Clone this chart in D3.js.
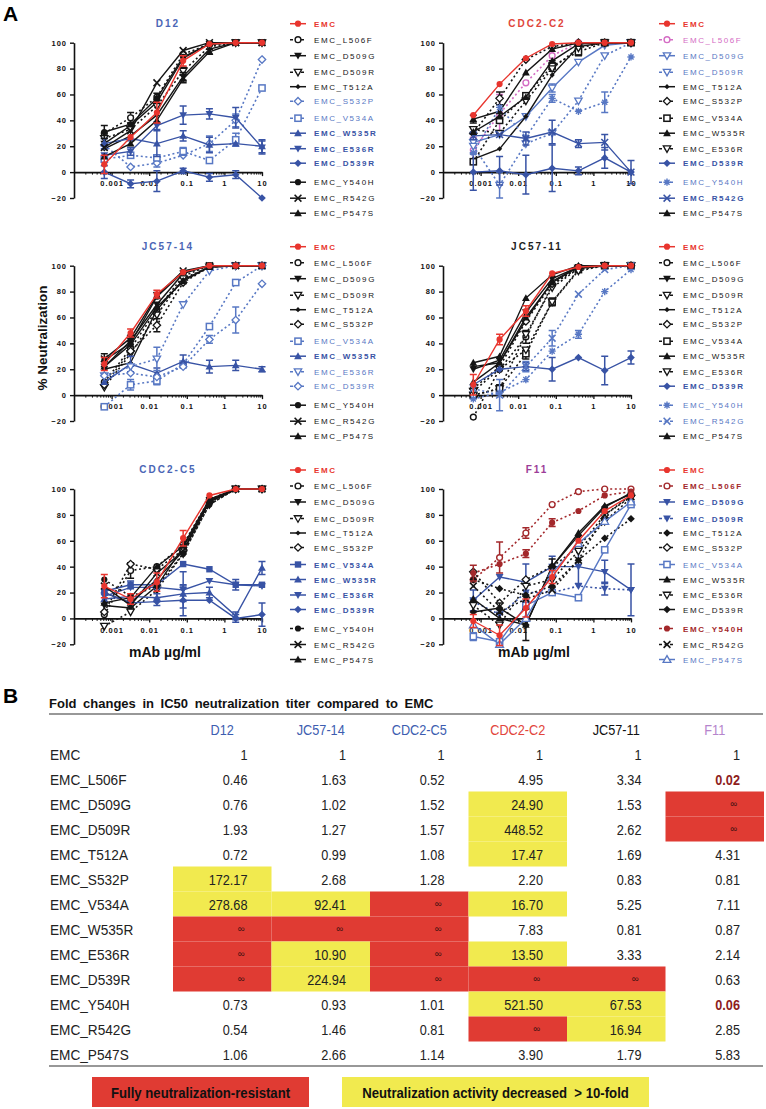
<!DOCTYPE html>
<html><head><meta charset="utf-8">
<script src="https://cdn.jsdelivr.net/npm/d3@7"></script>
<style>
body{margin:0;background:#fff}
svg text{font-family:"Liberation Sans",Arial,sans-serif}
</style></head>
<body><svg id="c" width="766" height="1109"></svg>
<script>
// ---------- DATA ----------
const conc = [0.00064, 0.0032, 0.016, 0.08, 0.4, 2, 10];
const mutants = ["EMC","EMC_L506F","EMC_D509G","EMC_D509R","EMC_T512A","EMC_S532P","EMC_V534A","EMC_W535R","EMC_E536R","EMC_D539R","EMC_Y540H","EMC_R542G","EMC_P547S"];
const xTickValues = [0.001, 0.01, 0.1, 1, 10];
const xTickLabels = ["0.001","0.01","0.1","1","10"];
const yTickValues = [-20, 0, 20, 40, 60, 80, 100];

// % neutralization, one row per mutant (order of `mutants`), one column per concentration
const valuesD12 = [
  [6, 27, 46, 86, 99, 100, 100],
  [30, 42, 58, 91, 99, 100, 100],
  [22, 36, 54, 88, 99, 100, 100],
  [26, 33, 51, 78, 97, 100, 100],
  [18, 28, 44, 74, 95, 100, 100],
  [21, 4, 7, 13, 22, 40, 87],
  [10, 13, 11, 16, 9, 25, 65],
  [22, 26, 22, 28, 21, 22, 20],
  [13, 16, 36, 44, 45, 42, 19],
  [0, -9, -7, 1, -4, -2, -20],
  [31, 37, 57, 89, 99, 100, 100],
  [19, 32, 69, 94, 100, 100, 100],
  [12, 22, 40, 72, 93, 100, 100]
];
const errD12 = [
  [7,0,8,4,0,0,0],[0,4,0,0,0,0,0],[0,0,0,0,0,0,0],[0,0,0,3,0,0,0],[0,0,0,3,0,0,0],
  [0,0,3,0,6,5,0],[0,0,0,3,0,5,0],[4,0,10,4,6,0,5],[0,3,3,7,4,8,5],[5,3,8,2,3,3,0],
  [5,0,4,0,0,0,0],[0,0,0,0,0,0,0],[0,0,0,3,2,0,0]
];
const valuesCDC2C2 = [
  [44, 68, 88, 99, 100, 100, 100],
  [17, 45, 69, 90, 100, 100, 100],
  [23, 29, 43, 65, 85, 98, 100],
  [20, -10, 22, 30, 55, 90, 100],
  [10, 18, 43, 75, 97, 100, 100],
  [30, 57, 87, 97, 100, 100, 100],
  [8, 40, 59, 82, 93, 100, 100],
  [41, 47, 77, 95, 100, 100, 100],
  [33, 30, 55, 80, 96, 100, 100],
  [0, 1, -2, 3, 1, 11, 0],
  [15, 50, 27, 57, 47, 54, 89],
  [28, 29, 26, 31, 22, 23, 0],
  [31, 43, 58, 86, 99, 100, 100]
];
const errCDC2C2 = [
  [0,0,0,0,0,0,0],[10,15,0,0,0,0,0],[0,0,0,3,0,0,0],[0,10,0,0,0,0,0],[0,0,0,0,0,0,0],
  [0,5,0,0,0,0,0],[0,0,0,4,3,0,0],[3,0,0,0,0,0,0],[0,0,0,0,0,0,0],[14,11,15,18,3,8,9],
  [0,0,0,3,0,8,0],[3,0,5,9,3,6,0],[0,0,0,0,0,0,0]
];
const valuesJC5714 = [
  [24, 48, 78, 95, 100, 100, 100],
  [10, 36, 66, 92, 100, 100, 100],
  [22, 42, 70, 94, 100, 100, 100],
  [6, 32, 62, 90, 99, 100, 100],
  [20, 25, 66, 89, 99, 100, 100],
  [8, 34, 54, 87, 99, 100, 100],
  [-9, 8, 11, 24, 53, 87, 100],
  [10, 24, 17, 26, 22, 23, 20],
  [15, 22, 28, 70, 96, 100, 100],
  [15, 17, 14, 22, 43, 58, 86],
  [27, 40, 76, 95, 100, 100, 100],
  [28, 44, 77, 96, 100, 100, 100],
  [22, 39, 68, 88, 99, 100, 100]
];
const errJC5714 = [
  [5,3,3,0,0,0,0],[0,0,0,0,0,0,0],[0,0,0,0,0,0,0],[0,0,0,0,0,0,0],[0,0,0,0,0,0,0],
  [0,0,5,0,0,0,0],[0,4,3,0,0,0,0],[0,6,4,5,5,4,2],[0,0,9,0,0,0,0],[0,0,0,0,3,10,0],
  [5,0,0,0,0,0,0],[0,0,0,0,0,0,0],[0,0,0,0,0,0,0]
];
const valuesJC5711 = [
  [8, 43, 65, 94, 99, 100, 100],
  [-17, 20, 45, 85, 99, 100, 100],
  [20, 27, 64, 90, 99, 100, 100],
  [0, 5, 47, 83, 98, 100, 100],
  [22, 25, 58, 88, 99, 100, 100],
  [5, 22, 57, 86, 98, 100, 100],
  [0, 5, 32, 72, 97, 100, 100],
  [25, 30, 75, 93, 100, 100, 100],
  [3, 20, 35, 72, 96, 100, 100],
  [8, 20, 22, 20, 29, 19, 29],
  [-3, 2, 12, 34, 47, 80, 97],
  [5, 0, 22, 44, 78, 97, 100],
  [10, 25, 60, 87, 99, 100, 100]
];
const errJC5711 = [
  [8,4,4,0,0,0,0],[0,0,5,0,0,0,0],[0,0,0,0,0,0,0],[0,0,0,0,0,0,0],[0,0,0,0,0,0,0],
  [0,0,0,0,0,0,0],[0,3,4,3,0,0,0],[0,0,0,0,0,0,0],[0,0,0,0,0,0,0],[0,0,3,9,0,11,5],
  [0,0,0,0,3,0,0],[0,12,4,6,0,0,0],[0,0,0,0,0,0,0]
];
const valuesCDC2C5 = [
  [25, 15, 28, 62, 95, 100, 100],
  [3, 37, 40, 57, 92, 100, 100],
  [10, 8, 25, 55, 90, 100, 100],
  [-6, 5, 22, 50, 88, 100, 100],
  [20, 12, 30, 52, 90, 100, 100],
  [5, 42, 38, 53, 90, 100, 100],
  [21, 26, 26, 42, 38, 26, 26],
  [15, 17, 16, 19, 20, 2, 39],
  [17, 24, 24, 22, 29, 26, 25],
  [20, 12, 13, 14, 14, 0, 3],
  [30, 17, 25, 50, 88, 100, 100],
  [25, 10, 35, 52, 91, 100, 100],
  [12, 16, 40, 56, 92, 100, 100]
];
const errCDC2C5 = [
  [9,4,7,6,0,0,0],[0,6,0,0,0,0,0],[0,0,0,0,0,0,0],[0,0,0,0,0,0,0],[0,0,0,0,0,0,0],
  [0,0,0,0,0,0,0],[0,3,3,0,0,4,0],[0,0,3,6,4,3,5],[0,0,0,14,0,0,0],[0,0,3,12,0,3,9],
  [0,0,0,0,0,0,0],[0,0,0,0,0,0,0],[0,0,0,0,0,0,0]
];
const valuesF11 = [
  [-2, -13, 8, 32, 60, 83, 95],
  [30, 47, 66, 88, 98, 100, 100],
  [14, 32, 28, 40, 40, 36, 22],
  [13, 3, 20, 20, 25, 23, 22],
  [30, 23, 18, 25, 45, 62, 77],
  [36, 12, 30, 40, 55, 80, 95],
  [-14, -18, 10, 20, 16, 53, 88],
  [15, 0, -5, 40, 66, 87, 96],
  [10, -5, 25, 30, 52, 75, 93],
  [5, 8, -5, 40, 64, 86, 97],
  [35, 42, 50, 74, 83, 95, 98],
  [25, 5, 15, 22, 45, 80, 94],
  [-5, -20, 0, 35, 58, 75, 90]
];
const errF11 = [
  [5,8,7,5,0,0,0],[0,12,4,0,0,0,0],[8,0,14,8,13,9,20],[0,0,0,0,0,5,0],[0,0,0,0,0,0,0],
  [0,0,0,0,0,0,0],[3,0,0,0,0,0,0],[0,0,0,0,0,0,0],[0,0,0,0,0,0,0],[0,4,12,6,0,0,0],
  [6,0,3,3,0,0,0],[0,0,0,0,0,0,0],[0,0,0,0,0,0,0]
];

// table B: fold change in IC50 vs EMC (one list per antibody column, rows as `mutants`)
const tableCols = ["D12","JC57-14","CDC2-C5","CDC2-C2","JC57-11","F11"];
const foldD12    = ["1","0.46","0.76","1.93","0.72","172.17","278.68","∞","∞","∞","0.73","0.54","1.06"];
const foldJC5714 = ["1","1.63","1.02","1.27","0.99","2.68","92.41","∞","10.90","224.94","0.93","1.46","2.66"];
const foldCDC2C5 = ["1","0.52","1.52","1.57","1.08","1.28","∞","∞","∞","∞","1.01","0.81","1.14"];
const foldCDC2C2 = ["1","4.95","24.90","448.52","17.47","2.20","16.70","7.83","13.50","∞","521.50","∞","3.90"];
const foldJC5711 = ["1","3.34","1.53","2.62","1.69","0.83","5.25","0.81","3.33","∞","67.53","16.94","1.79"];
const foldF11    = ["1","0.02","∞","∞","4.31","0.81","7.11","0.87","2.14","0.63","0.06","2.85","5.83"];
const foldTable = [foldD12, foldJC5714, foldCDC2C5, foldCDC2C2, foldJC5711, foldF11];

// ---------- STYLES ----------
const colorMap = {r:"#e8352e", k:"#151515", b:"#3853a5", lb:"#5878c4", pk:"#d46cc4", dr:"#a3282b"};
const boldKeys = {r:true, b:true, dr:true};
const panels = [
  {title:"D12", tcolor:"#4b66b6", col:0, row:0, vals:valuesD12, errs:errD12,
   colors:["r","k","k","k","k","lb","lb","b","b","b","k","k","k"],
   dotted:[0,1,0,1,0,1,1,0,0,0,0,0,0],
   marks:["o","O","v","V","d","Q","S","^","v","D","o","x","^"]},
  {title:"CDC2-C2", tcolor:"#e0463b", col:1, row:0, vals:valuesCDC2C2, errs:errCDC2C2,
   colors:["r","pk","lb","lb","k","k","k","k","k","b","lb","b","k"],
   dotted:[0,1,0,1,0,1,1,0,1,0,1,0,0],
   marks:["o","O","V","V","d","Q","S","^","V","D","*","x","^"]},
  {title:"JC57-14", tcolor:"#4b66b6", col:0, row:1, vals:valuesJC5714, errs:errJC5714,
   colors:["r","k","k","k","k","k","lb","b","lb","lb","k","k","k"],
   dotted:[0,1,0,1,0,1,1,0,1,1,0,0,0],
   marks:["o","O","v","V","d","Q","S","^","V","Q","o","x","^"]},
  {title:"JC57-11", tcolor:"#222222", col:1, row:1, vals:valuesJC5711, errs:errJC5711,
   colors:["r","k","k","k","k","k","k","k","k","b","lb","lb","k"],
   dotted:[0,1,0,1,0,1,1,0,1,0,1,1,0],
   marks:["o","O","v","V","d","Q","S","^","V","D","*","x","^"]},
  {title:"CDC2-C5", tcolor:"#4b66b6", col:0, row:2, vals:valuesCDC2C5, errs:errCDC2C5,
   colors:["r","k","k","k","k","k","b","b","b","b","k","k","k"],
   dotted:[0,1,0,1,0,1,0,0,0,0,1,0,0],
   marks:["o","O","v","V","d","Q","s","^","v","D","o","x","^"]},
  {title:"F11", tcolor:"#9c3c98", col:1, row:2, vals:valuesF11, errs:errF11,
   colors:["r","dr","b","b","k","k","lb","k","k","k","dr","k","lb"],
   dotted:[0,1,0,1,1,1,0,0,1,0,1,1,0],
   marks:["o","O","v","v","D","Q","S","^","V","D","o","x","A"]}
];
const legendOffsets = [-19, -3, 13, 29.5, 44, 58.5, 75.5, 90.5, 106, 120.5, 139.5, 155.5, 170.5];

// ---------- DRAW ----------
const svg = d3.select("#c");
const colX = [74, 443];
const rowY = [42.7, 265.7, 489];
const plotW = 188, plotH = 155.3;

function marker(g, type, cx, cy, color, s) {
  s = s || 1;
  const tri = (dir, r) => `M${cx-r},${cy-dir*r*0.75}L${cx+r},${cy-dir*r*0.75}L${cx},${cy+dir*r}Z`;
  if (type === "o") g.append("circle").attr("cx",cx).attr("cy",cy).attr("r",3.1*s).attr("fill",color);
  else if (type === "O") g.append("circle").attr("cx",cx).attr("cy",cy).attr("r",2.9*s).attr("fill","#fff").attr("stroke",color).attr("stroke-width",1.4);
  else if (type === "v") g.append("path").attr("d",tri(1,3.9*s)).attr("fill",color);
  else if (type === "V") g.append("path").attr("d",tri(1,3.7*s)).attr("fill","#fff").attr("stroke",color).attr("stroke-width",1.3);
  else if (type === "^") g.append("path").attr("d",tri(-1,3.9*s)).attr("fill",color);
  else if (type === "A") g.append("path").attr("d",tri(-1,3.9*s)).attr("fill","#fff").attr("stroke",color).attr("stroke-width",1.3);
  else if (type === "d") { const r=2.6*s; g.append("path").attr("d",`M${cx},${cy-r}L${cx+r},${cy}L${cx},${cy+r}L${cx-r},${cy}Z`).attr("fill",color); }
  else if (type === "D") { const r=3.8*s; g.append("path").attr("d",`M${cx},${cy-r}L${cx+r},${cy}L${cx},${cy+r}L${cx-r},${cy}Z`).attr("fill",color); }
  else if (type === "Q") { const r=3.7*s; g.append("path").attr("d",`M${cx},${cy-r}L${cx+r},${cy}L${cx},${cy+r}L${cx-r},${cy}Z`).attr("fill","#fff").attr("stroke",color).attr("stroke-width",1.3); }
  else if (type === "s") { const r=3.2*s; g.append("rect").attr("x",cx-r).attr("y",cy-r).attr("width",2*r).attr("height",2*r).attr("fill",color); }
  else if (type === "S") { const r=3.1*s; g.append("rect").attr("x",cx-r).attr("y",cy-r).attr("width",2*r).attr("height",2*r).attr("fill","#fff").attr("stroke",color).attr("stroke-width",1.5); }
  else if (type === "x") { const r=3.4*s; g.append("path").attr("d",`M${cx-r},${cy-r}L${cx+r},${cy+r}M${cx-r},${cy+r}L${cx+r},${cy-r}`).attr("stroke",color).attr("stroke-width",1.6); }
  else if (type === "*") { const r=3.6*s; let d=""; for (let k=0;k<4;k++){const a=k*Math.PI/4; d+=`M${cx-r*Math.cos(a)},${cy-r*Math.sin(a)}L${cx+r*Math.cos(a)},${cy+r*Math.sin(a)}`;} g.append("path").attr("d",d).attr("stroke",color).attr("stroke-width",1.4); }
}

const minorTicks = [];
[-4,-3,-2,-1,0].forEach(e => { for (let k=2;k<=9;k++) minorTicks.push(k*Math.pow(10,e)); });

panels.forEach(p => {
  const x0 = colX[p.col], yTop = rowY[p.row];
  const x = d3.scaleLog().domain([1e-4, 10]).range([x0, x0 + plotW]);
  const y = d3.scaleLinear().domain([-20, 100]).range([yTop + plotH, yTop]);
  const g = svg.append("g");

  g.append("text").attr("x", x0 + plotW/2).attr("y", yTop - 16).attr("text-anchor","middle")
    .attr("font-size", 10).attr("font-weight","bold").attr("letter-spacing", 2).attr("fill", p.tcolor).text(p.title);

  const ya = g.append("g").attr("transform", `translate(${x0},0)`)
    .call(d3.axisLeft(y).tickValues(yTickValues).tickSize(4).tickSizeOuter(0).tickPadding(3));
  ya.select(".domain").attr("stroke","#111").attr("stroke-width",1.6);
  ya.selectAll(".tick line").attr("stroke","#111").attr("stroke-width",1.4);
  ya.selectAll(".tick text").attr("font-size",7.5).attr("font-weight","bold").attr("letter-spacing",1)
    .attr("font-family","Liberation Sans, Arial, sans-serif").attr("fill","#111");

  const xm = g.append("g").attr("transform", `translate(0,${y(0)})`)
    .call(d3.axisBottom(x).tickValues(minorTicks).tickSize(2.5).tickSizeOuter(0).tickFormat(""));
  xm.select(".domain").attr("stroke","#111").attr("stroke-width",1.6);
  xm.selectAll(".tick line").attr("stroke","#111").attr("stroke-width",1);
  const xa = g.append("g").attr("transform", `translate(0,${y(0)})`)
    .call(d3.axisBottom(x).tickValues(xTickValues).tickSize(4).tickSizeOuter(0)
      .tickFormat((d,i) => xTickLabels[i]).tickPadding(5));
  xa.select(".domain").remove();
  xa.selectAll(".tick line").attr("stroke","#111").attr("stroke-width",1.3);
  xa.selectAll(".tick text").attr("font-size",7.5).attr("font-weight","bold").attr("letter-spacing",1)
    .attr("font-family","Liberation Sans, Arial, sans-serif").attr("fill","#111");

  const order = d3.range(1, mutants.length).concat([0]);
  const line = d3.line().x((d,i) => x(conc[i])).y(d => y(d));
  order.forEach(i => {
    const col = colorMap[p.colors[i]];
    const sg = g.append("g");
    sg.append("path").datum(p.vals[i]).attr("d", line).attr("fill","none").attr("stroke", col)
      .attr("stroke-width", p.dotted[i] ? 1.6 : 1.4).attr("stroke-dasharray", p.dotted[i] ? "2,2.6" : null);
    p.vals[i].forEach((v, j) => {
      const e = p.errs[i][j];
      if (e > 0) {
        const cx = x(conc[j]);
        sg.append("path").attr("d", `M${cx},${y(v-e)}L${cx},${y(v+e)}M${cx-3.5},${y(v-e)}L${cx+3.5},${y(v-e)}M${cx-3.5},${y(v+e)}L${cx+3.5},${y(v+e)}`)
          .attr("stroke", col).attr("stroke-width", 1.5).attr("fill","none");
      }
    });
    p.vals[i].forEach((v, j) => marker(sg, p.marks[i], x(conc[j]), y(v), col, 1));
  });

  const lx = x0 + 224, tx = x0 + 240;
  mutants.forEach((m, i) => {
    const ly = yTop + legendOffsets[i];
    const col = colorMap[p.colors[i]];
    g.append("line").attr("x1", lx - 8).attr("x2", lx + 8).attr("y1", ly).attr("y2", ly)
      .attr("stroke", col).attr("stroke-width", 1.5).attr("stroke-dasharray", p.dotted[i] ? "3,2.5" : null);
    marker(g, p.marks[i], lx, ly, col, 1);
    g.append("text").attr("x", tx).attr("y", ly + 3).attr("font-size", 8).attr("letter-spacing", 1.6)
      .attr("font-weight", boldKeys[p.colors[i]] ? "bold" : "normal").attr("fill", col).text(m);
  });
});

svg.append("text").attr("transform","translate(47,338) rotate(-90)").attr("text-anchor","middle")
  .attr("font-size",13.5).attr("font-weight","bold").attr("fill","#111").text("% Neutralization");
[0,1].forEach(c => {
  svg.append("text").attr("x", colX[c] + plotW/2 - 3).attr("y", 657).attr("text-anchor","middle")
    .attr("font-size",14).attr("font-weight","bold").attr("fill","#111").text("mAb µg/ml");
});
svg.append("text").attr("x",3).attr("y",21).attr("font-size",21).attr("font-weight","bold").text("A");
svg.append("text").attr("x",3).attr("y",703).attr("font-size",21).attr("font-weight","bold").text("B");

// ---------- TABLE ----------
// condensed text: regular sans squeezed horizontally
function narrow(sel, x, y, anchor, sx) {
  return sel.append("text").attr("transform", `translate(${x},${y}) scale(${sx},1)`).attr("text-anchor", anchor);
}
const xc = d3.scaleBand().domain(tableCols).range([173, 764]);
const yr = d3.scaleBand().domain(["header"].concat(mutants)).range([716.5, 1066.5]);
const headColors = ["#3d5db0","#3d5db0","#3d5db0","#e2453c","#111111","#b584cc"];
const RED = "#e03b33", YEL = "#f1ea4f";

svg.append("text").attr("x",49).attr("y",708).attr("font-size",13).attr("font-weight","bold")
  .attr("word-spacing",3).attr("fill","#111").text("Fold changes in IC50 neutralization titer compared to EMC");

const tg = svg.append("g");
foldTable.forEach((colVals, c) => {
  const cname = tableCols[c];
  colVals.forEach((v, r) => {
    const m = mutants[r];
    const isInf = v === "∞";
    const num = parseFloat(v);
    if (isInf || num > 10) {
      tg.append("rect").attr("x", xc(cname)).attr("y", yr(m)).attr("width", xc.bandwidth()).attr("height", yr.bandwidth())
        .attr("fill", isInf ? RED : YEL);
    }
  });
});
svg.append("line").attr("x1",49).attr("x2",763).attr("y1",714).attr("y2",714).attr("stroke","#333").attr("stroke-width",1.2);
svg.append("line").attr("x1",49).attr("x2",763).attr("y1",1066).attr("y2",1066).attr("stroke","#333").attr("stroke-width",1.2);

const headCenters = tableCols.map(c => xc(c) + xc.bandwidth()/2);
tableCols.forEach((cname, c) => {
  narrow(svg, headCenters[c], yr("header") + yr.bandwidth()/2 + 5.5, "middle", 0.82)
    .attr("font-size",15.5).attr("fill", headColors[c]).text(cname);
});
mutants.forEach(m => {
  narrow(svg, 50, yr(m) + yr.bandwidth()/2 + 5.5, "start", 0.88)
    .attr("font-size",15.5).attr("fill","#222").text(m);
});
foldTable.forEach((colVals, c) => {
  const cname = tableCols[c];
  const right = xc(cname) + xc.bandwidth() - 24;
  colVals.forEach((v, r) => {
    const m = mutants[r];
    const cy = yr(m) + yr.bandwidth()/2;
    if (v === "∞") {
      svg.append("text").attr("x", right - 3).attr("y", cy + 3).attr("text-anchor","end").attr("font-size",9.5)
        .attr("fill","#3a1010").text(v);
    } else {
      const special = parseFloat(v) < 0.1;
      narrow(svg, right, cy + 5.5, "end", 0.82).attr("font-size",15.5)
        .attr("font-weight", special ? "bold" : "normal")
        .attr("fill", special ? "#8e1d1d" : "#222").text(v);
    }
  });
});

const legendItems = ["Fully neutralization-resistant", "Neutralization activity decreased  > 10-fold"];
const legendFills = [RED, YEL];
const legendX = [[92, 309], [342, 649]];
legendItems.forEach((t, i) => {
  svg.append("rect").attr("x", legendX[i][0]).attr("y",1077).attr("width", legendX[i][1]-legendX[i][0]).attr("height",30)
    .attr("fill", legendFills[i]);
  narrow(svg, (legendX[i][0]+legendX[i][1])/2, 1098, "middle", 0.85)
    .attr("font-size",15.5).attr("font-weight","bold").attr("fill","#111")
    .style("white-space","pre").text(t);
});
</script>
</body></html>
